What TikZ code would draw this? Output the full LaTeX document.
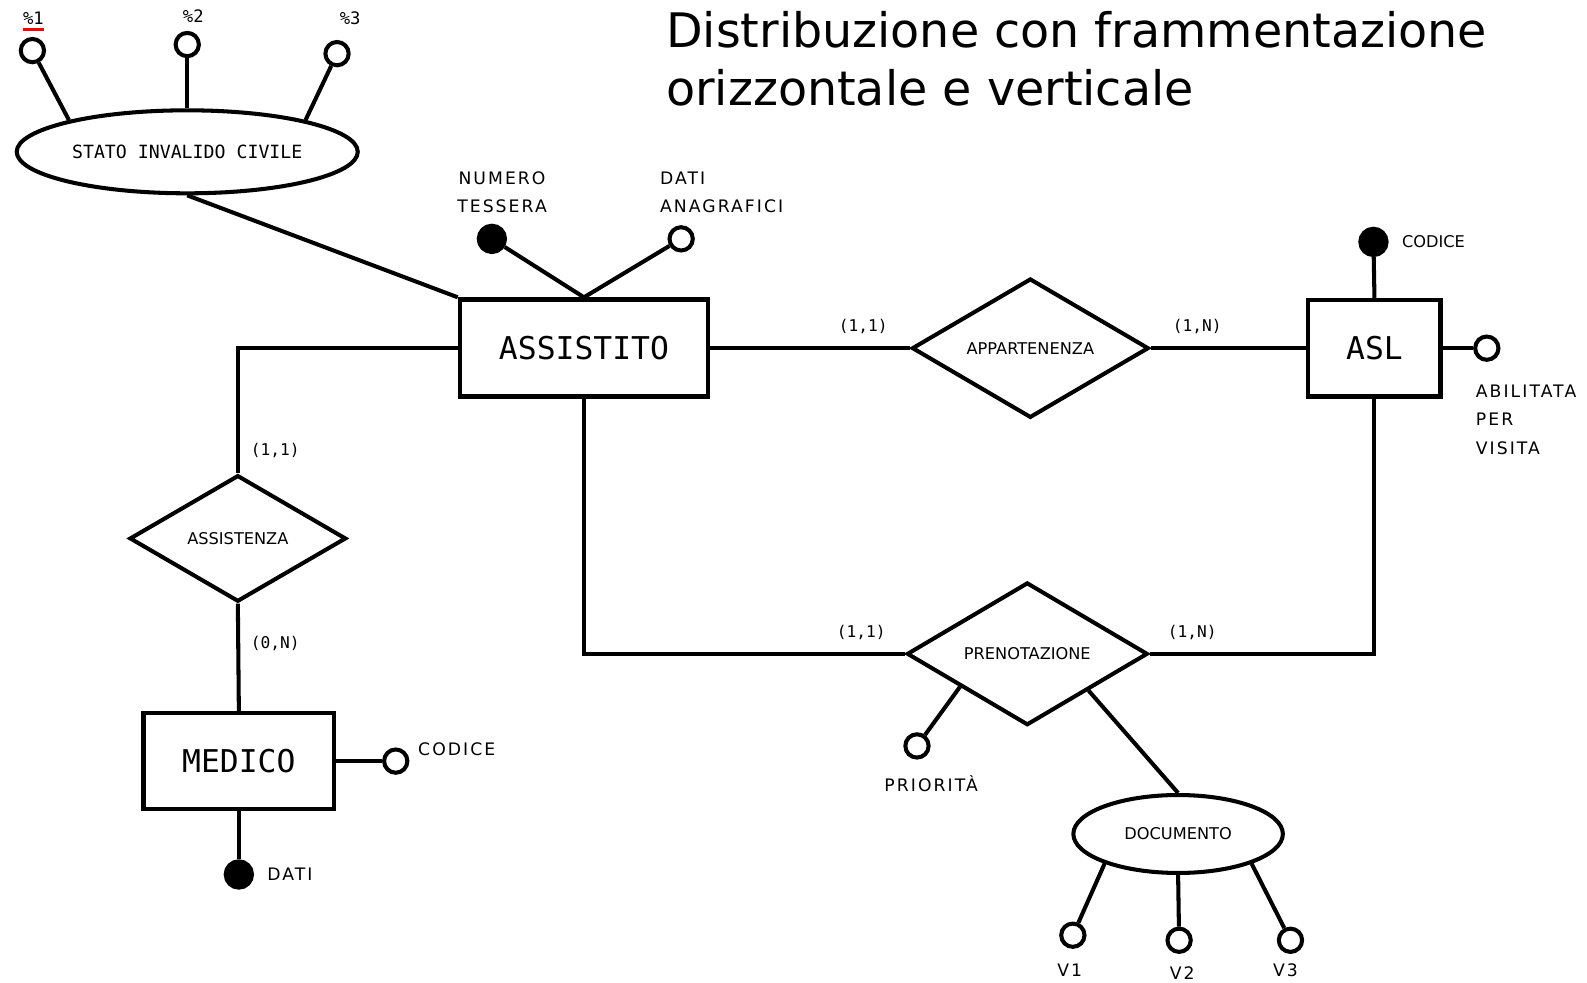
\documentclass[tikz,border=0pt]{standalone}
\usepackage{fontspec}
\setmainfont{DejaVu Sans}
\newfontfamily\monofam{DejaVu Sans Mono}
\newfontfamily\spacedfam[LetterSpace=12]{DejaVu Sans}
\usepackage{tikz}
\usetikzlibrary{positioning,calc,shapes,shapes.geometric}
\newcommand\titlefont{\fontsize{47}{57}\selectfont}
\newcommand\entfont{\monofam\fontsize{31}{31}\selectfont}
\newcommand\relfont{\fontsize{16}{16}\selectfont}
\newcommand\statofont{\monofam\fontsize{18}{18}\selectfont}
\newcommand\cardfont{\monofam\fontsize{16}{16}\selectfont}
\newcommand\pctfont{\monofam\fontsize{17}{17}\selectfont}
\newcommand\attrfont{\spacedfam\fontsize{17}{28}\selectfont}
\newcommand\narrowfont{\fontsize{16}{16}\selectfont}
\tikzset{ent/.style={draw, rectangle, line width=4.5pt, inner sep=0pt, font=\entfont}}
\tikzset{rel/.style={draw, diamond, line width=4pt, inner sep=0pt, font=\relfont}}
\tikzset{composto/.style={draw, ellipse, line width=4pt, inner sep=0pt, font=\relfont}}
\tikzset{attr0/.style={draw, circle, line width=4pt, minimum size=23pt, inner sep=0pt, fill=white}}
\tikzset{attr1/.style={attr0, fill=black, minimum size=26pt}}
\tikzset{lnk/.style={draw, line width=4pt}}
\tikzset{card/.style={font=\cardfont, inner sep=0pt}}
\tikzset{alab/.style={font=\attrfont, inner sep=0pt, align=left}}

\begin{document}
\begin{tikzpicture}[x=1pt, y=-1pt]
    \useasboundingbox (0,0) rectangle (1568,971);
    % titolo
    \node[font=\titlefont, anchor=base west, inner sep=0pt] (T1) at (658,47) {Distribuzione con frammentazione};
    \node[font=\titlefont, anchor=base west, inner sep=0pt] (T2) at (658,104) {orizzontale e verticale};

    % entita
    \node[ent, minimum width=245, minimum height=96] (Ass) at (577,344) {ASSISTITO};
    \node[ent, minimum width=188, minimum height=95] (Med) at (236,752) {MEDICO};
    \node[ent, minimum width=131, minimum height=95] (Asl) at (1358,344) {ASL};

    % relazioni
    \node[rel, minimum width=214, minimum height=125] (Assist) at (235,532) {ASSISTENZA};
    \node[rel, minimum width=234, minimum height=137] (Appart) at (1018,344) {APPARTENENZA};
    \node[rel, minimum width=238, minimum height=141] (Pren) at (1015,646) {PRENOTAZIONE};

    % attributi composti
    \node[composto, minimum width=337, minimum height=82, font=\statofont] (Stato) at (185,150) {STATO INVALIDO CIVILE};
    \node[composto, minimum width=207, minimum height=77, font=\narrowfont] (Doc) at (1164,824) {DOCUMENTO};

    % attributi
    \node[attr0] (P1) at (32,50) {};
    \node[attr0] (P2) at (185,44) {};
    \node[attr0] (P3) at (333,53) {};
    \node[attr1] (NumT) at (486,236) {};
    \node[attr0] (DatA) at (673,236) {};
    \node[attr1] (AslC) at (1357,239) {};
    \node[attr0] (AslA) at (1469,344) {};
    \node[attr0] (MedC) at (391,752) {};
    \node[attr1] (MedD) at (236,864) {};
    \node[attr0] (Prio) at (906,737) {};
    \node[attr0] (V1) at (1060,924) {};
    \node[attr0] (V2) at (1165,929) {};
    \node[attr0] (V3) at (1275,929) {};

    % etichette attributi
    \node[font=\pctfont, inner sep=0pt] (L1) at (33,18) {\%1};
    \node[font=\pctfont, inner sep=0pt] (L2) at (191,16) {\%2};
    \node[font=\pctfont, inner sep=0pt] (L3) at (346,18) {\%3};
    \draw[red, line width=2.5pt] ([yshift=-5pt]L1.south west) -- ([yshift=-5pt]L1.south east);
    \node[alab, align=center] (LNumT) at (496,190) {NUMERO\\TESSERA};
    \node[alab, anchor=west] (LDatA) at (652,190) {DATI\\ANAGRAFICI};
    \node[alab, anchor=west, font=\narrowfont] (LAslC) at (1385,239) {CODICE};
    \node[alab, anchor=north west] (LAslA) at (1458,380) {ABILITATA\\PER\\VISITA};
    \node[alab, anchor=west] (LMedC) at (413,740) {CODICE};
    \node[alab, anchor=west] (LMedD) at (264,864) {DATI};
    \node[alab, anchor=base] (LPrio) at (920,782) {PRIORITÀ};
    \node[alab] (LV1) at (1057,959) {V1};
    \node[alab] (LV2) at (1168,961) {V2};
    \node[alab] (LV3) at (1270,959) {V3};

    % cardinalita
    \node[card] (k1) at (272,445) {(1,1)};
    \node[card] (k2) at (272,636) {(0,N)};
    \node[card] (k3) at (853,323) {(1,1)};
    \node[card] (k4) at (1183,323) {(1,N)};
    \node[card] (k5) at (851,625) {(1,1)};
    \node[card] (k6) at (1178,625) {(1,N)};

    % collegamenti
    \draw[lnk] (Stato.south) -- (Ass.north west);
    \draw[lnk] (P1) -- (Stato.165);
    \draw[lnk] (P2) -- (Stato.north);
    \draw[lnk] (P3) -- (Stato.15);
    \draw[lnk] (NumT) -- (Ass.north);
    \draw[lnk] (DatA) -- (Ass.north);
    \draw[lnk] (Ass.west) -| (Assist.north);
    \draw[lnk] (Assist.south) -- (Med.north);
    \draw[lnk] (Med.east) -- (MedC);
    \draw[lnk] (Med.south) -- (MedD);
    \draw[lnk] (Ass.east) -- (Appart.west);
    \draw[lnk] (Appart.east) -- (Asl.west);
    \draw[lnk] (Asl.north) -- (AslC);
    \draw[lnk] (Asl.east) -- (AslA);
    \draw[lnk] (Asl.south) |- (Pren.east);
    \draw[lnk] (Ass.south) |- (Pren.west);
    \coordinate (PrioJ) at ($(Pren.west)!0.45!(Pren.south)$);
    \coordinate (DocJ) at ($(Pren.south)!0.5!(Pren.east)$);
    \draw[lnk] (Prio) -- (PrioJ);
    \draw[lnk] (DocJ) -- (Doc.north);
    \draw[lnk] (Doc.-158) -- (V1);
    \draw[lnk] (Doc.south) -- (V2);
    \draw[lnk] (Doc.-22) -- (V3);
\end{tikzpicture}
\end{document}
